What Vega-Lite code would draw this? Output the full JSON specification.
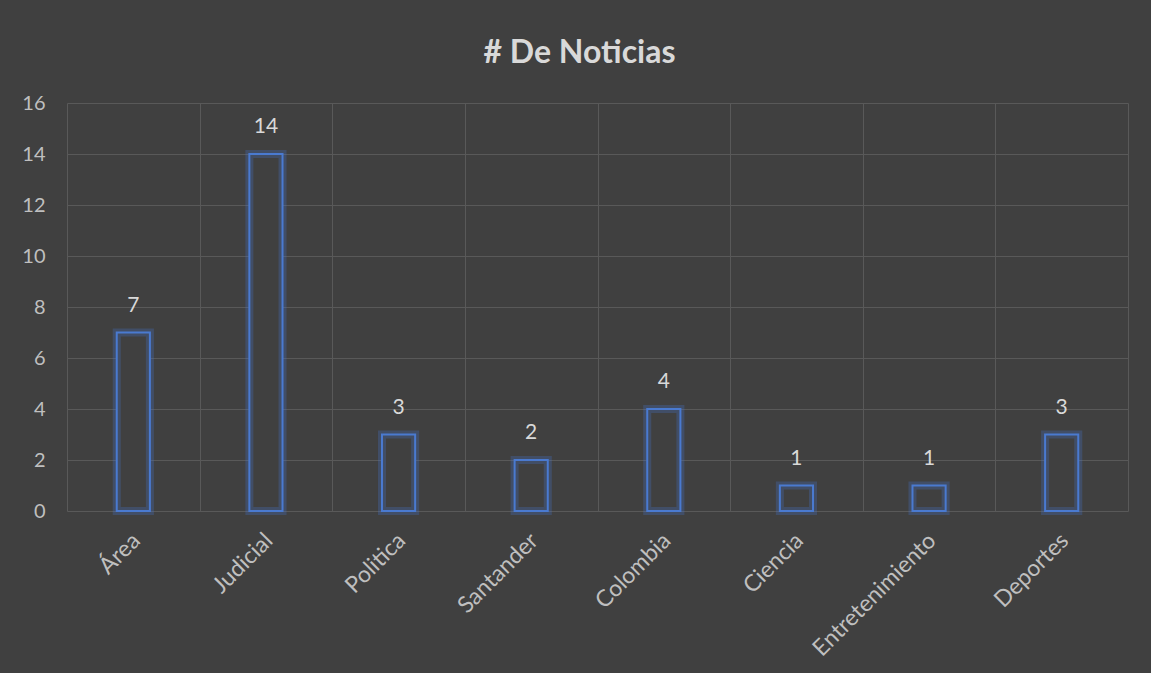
{
  "$schema": "https://vega.github.io/schema/vega-lite/v6.json",
  "width": 1061,
  "height": 408,
  "autosize": {"type": "none"},
  "padding": {"left": 67, "top": 103, "right": 23, "bottom": 162},
  "background": "#404040",
  "title": {
    "text": "# De Noticias",
    "font": "Lato",
    "fontSize": 32,
    "fontWeight": "bold",
    "color": "#d9d9d9",
    "anchor": "middle",
    "dx": -18,
    "offset": 23
  },
  "data": {
    "values": [
      {"categoria": "Área", "noticias": 7},
      {"categoria": "Judicial", "noticias": 14},
      {"categoria": "Politica", "noticias": 3},
      {"categoria": "Santander", "noticias": 2},
      {"categoria": "Colombia", "noticias": 4},
      {"categoria": "Ciencia", "noticias": 1},
      {"categoria": "Entretenimiento", "noticias": 1},
      {"categoria": "Deportes", "noticias": 3}
    ]
  },
  "config": {
    "view": {"stroke": null},
    "font": "Lato"
  },
  "encoding": {
    "x": {
      "field": "categoria",
      "type": "nominal",
      "sort": null,
      "title": null,
      "scale": {"paddingInner": 0, "paddingOuter": 0},
      "axis": {
        "tickBand": "extent",
        "grid": true,
        "gridColor": "#595959",
        "gridWidth": 1,
        "ticks": false,
        "domain": false,
        "labelAngle": -45,
        "labelFont": "Lato",
        "labelFontSize": 23,
        "labelColor": "#bfbfbf",
        "labelPadding": 18,
        "labelOffset": -5
      }
    },
    "y": {
      "field": "noticias",
      "type": "quantitative",
      "title": null,
      "scale": {"domain": [0, 16], "nice": false},
      "axis": {
        "values": [0, 2, 4, 6, 8, 10, 12, 14, 16],
        "grid": true,
        "gridColor": "#595959",
        "gridWidth": 1,
        "ticks": false,
        "domain": false,
        "labelFont": "Lato",
        "labelFontSize": 20,
        "labelColor": "#bfbfbf",
        "labelPadding": 22
      }
    }
  },
  "layer": [
    {
      "mark": {"type": "bar", "width": {"band": 0.25}, "fill": "#404040", "stroke": "#4472C4", "strokeWidth": 8, "strokeOpacity": 0.3}
    },
    {
      "mark": {"type": "bar", "width": {"band": 0.25}, "fill": "#404040", "fillOpacity": 0, "stroke": "#4a7ad0", "strokeWidth": 2}
    },
    {
      "mark": {"type": "text", "dy": -27, "fontSize": 21, "color": "#d9d9d9", "font": "Lato"},
      "encoding": {"text": {"field": "noticias", "type": "quantitative"}}
    }
  ]
}
